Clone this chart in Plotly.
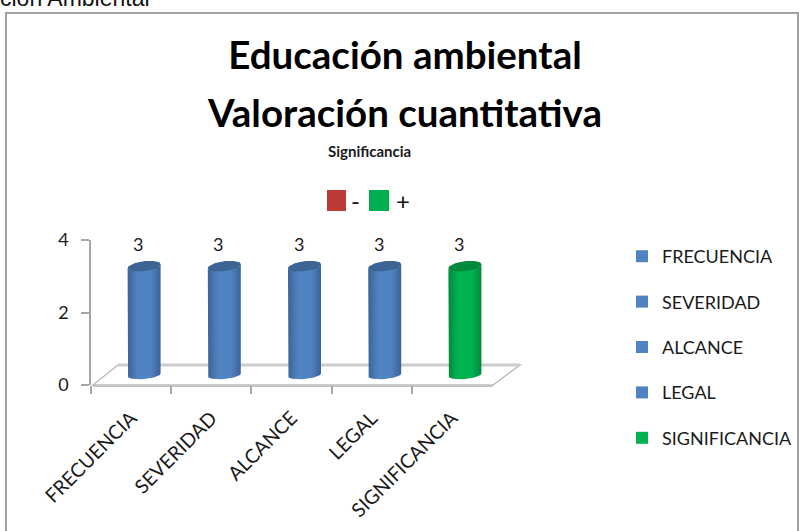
import numpy as np
import plotly.graph_objects as go

# ---- data ----
categories = ["FRECUENCIA", "SEVERIDAD", "ALCANCE", "LEGAL", "SIGNIFICANCIA"]
values = [3, 3, 3, 3, 3]
y_ticks = [0, 2, 4]
title_lines = ["Educación ambiental", "Valoración cuantitativa"]
subtitle = "Significancia"
clipped_heading = "ción Ambiental"
sign_labels = ["-", "+"]

# ---- styling ----
W, H = 799, 531
BLUE = dict(mid="#5183c2", edge="#396394", cap="#3b6595")
GREEN = dict(mid="#00b350", edge="#008a3e", cap="#008a3e")
styles = [BLUE, BLUE, BLUE, BLUE, GREEN]
GREY = "#a6a6a6"
FONT = "Lato"
px = lambda v: v / W
py = lambda v: 1 - v / H

AX_L, AX_R, AX_T, AX_B = 91, 492, 240, 385
DX, DY = 13, 10           # depth shift of the 3D columns
unit_x = (AX_R - AX_L) / 5
unit_y = (AX_B - AX_T) / 4
half_w = 16.5 / unit_x
cap_b = 5 / unit_y
cap_tilt = 2 / unit_y
Y2_FLOOR = -0.4           # room below zero for the rounded column base

fig = go.Figure()

# carrier of the category axis
fig.add_trace(go.Bar(x=categories, y=values, xaxis="x", yaxis="y",
                     marker=dict(color="rgba(0,0,0,0)"), showlegend=False, hoverinfo="skip"))

t = np.linspace(0, np.pi, 40)
tc = np.linspace(0, 2 * np.pi, 60)
for i, (name, v, st) in enumerate(zip(categories, values, styles)):
    fig.add_trace(go.Bar(x=[i], y=[v], width=[half_w * 1.7], name=name, xaxis="x2", yaxis="y2",
                         marker=dict(color=st["mid"], line=dict(width=0)),
                         legendgroup=name))
    # cylinder body with rounded front at the top and at the base
    cx_front = i + half_w * np.cos(t)
    top_front = v - cap_b * np.sin(t) + cap_tilt * np.cos(t)
    bot_front = -cap_b * np.sin(t) * 0.8 + cap_tilt * np.cos(t) * 0.7
    xs = np.concatenate([cx_front, cx_front[::-1], cx_front[:1]])
    ys = np.concatenate([top_front, bot_front[::-1], top_front[:1]])
    fig.add_trace(go.Scatter(x=xs, y=ys, mode="lines", line=dict(width=0), fill="toself",
                             fillgradient=dict(type="horizontal",
                                               colorscale=[[0, st["edge"]], [0.3, st["mid"]],
                                                           [0.7, st["mid"]], [1, st["edge"]]]),
                             xaxis="x2", yaxis="y2", showlegend=False, hoverinfo="skip"))
    # top cap
    fig.add_trace(go.Scatter(x=i + half_w * np.cos(tc),
                             y=v + cap_b * np.sin(tc) + cap_tilt * np.cos(tc),
                             mode="lines", line=dict(width=0), fill="toself", fillcolor=st["cap"],
                             xaxis="x2", yaxis="y2", showlegend=False, hoverinfo="skip"))

shapes = [
    # outer frame
    dict(type="path", xref="paper", yref="paper",
         path=f"M {px(6)} {py(H+5)} L {px(6)} {py(13)} L {px(W-1)} {py(13)} L {px(W-1)} {py(H+5)}",
         line=dict(color="#a3a3a3", width=2)),
    # floor
    dict(type="path", xref="paper", yref="paper", layer="below",
         path=f"M {px(93)} {py(385)} L {px(118)} {py(365)} L {px(520)} {py(365)} L {px(493)} {py(385)} Z",
         line=dict(color="#bdbdbd", width=1.5), fillcolor="#ffffff"),
    dict(type="line", xref="paper", yref="paper", layer="below",
         x0=px(118), x1=px(520), y0=py(365), y1=py(365), line=dict(color="#cccccc", width=3)),
    dict(type="line", xref="paper", yref="paper", layer="below",
         x0=px(93), x1=px(493), y0=py(386), y1=py(386), line=dict(color="#c4c4c4", width=2)),
    # sign swatches
    dict(type="rect", xref="paper", yref="paper", x0=px(327), x1=px(346), y0=py(190), y1=py(211),
         fillcolor="#bd3a36", line=dict(width=0)),
    dict(type="rect", xref="paper", yref="paper", x0=px(369), x1=px(389), y0=py(190), y1=py(211),
         fillcolor="#00b050", line=dict(width=0)),
]

annotations = [
    dict(text=clipped_heading, xref="paper", yref="paper", x=0, y=py(13), xanchor="left", xshift=-2,
         yanchor="bottom", showarrow=False, font=dict(family="Liberation Sans", size=23, color="#111111")),
    dict(text=f"<b>{title_lines[1]}</b>", xref="paper", yref="paper", x=px(404), y=py(112), yanchor="middle",
         showarrow=False, font=dict(family=FONT, size=38.5, color="#000000")),
    dict(text=f"<b>{subtitle}</b>", xref="paper", yref="paper", x=px(369), y=py(151), yanchor="middle",
         showarrow=False, font=dict(family=FONT, size=15, color="#1a1a1a")),
    dict(text=sign_labels[0], xref="paper", yref="paper", x=px(355), y=py(201), yanchor="middle",
         showarrow=False, font=dict(family=FONT, size=24, color="#111111")),
    dict(text=sign_labels[1], xref="paper", yref="paper", x=px(403), y=py(201), yanchor="middle",
         showarrow=False, font=dict(family=FONT, size=24, color="#111111")),
]
for i, v in enumerate(values):
    annotations.append(dict(text=str(v), xref="x2", yref="y2", x=i, y=v, xshift=-6, yshift=9,
                            yanchor="bottom", showarrow=False, font=dict(family=FONT, size=18, color="#1a1a1a")))

fig.update_layout(
    template="none",
    width=W, height=H, autosize=False,
    margin=dict(l=0, r=0, t=0, b=0, pad=0),
    paper_bgcolor="white", plot_bgcolor="rgba(0,0,0,0)",
    barmode="overlay", bargap=0,
    font=dict(family=FONT, color="#1a1a1a"),
    title=dict(text=f"<b>{title_lines[0]}</b>", x=px(405), xanchor="center",
               y=py(56), yanchor="middle", font=dict(family=FONT, size=38.5, color="#000000")),
    xaxis=dict(domain=[px(AX_L), px(AX_R)], type="category", categoryorder="array", categoryarray=categories,
               range=[-0.5, 4.5], tickson="boundaries", ticks="outside", ticklen=8, tickcolor=GREY, tickwidth=1.5,
               showline=False, showgrid=False, zeroline=False, tickangle=-45, automargin=False,
               ticklabelstandoff=17, tickfont=dict(family=FONT, size=19.5, color="#1a1a1a"), anchor="y"),
    yaxis=dict(domain=[py(AX_B), py(AX_T)], range=[0, 4], tickvals=y_ticks, ticks="outside", ticklen=8,
               tickcolor=GREY, tickwidth=1.5, showline=True, linecolor=GREY, linewidth=1.5, showgrid=False,
               zeroline=False, automargin=False, ticklabelstandoff=9,
               tickfont=dict(family=FONT, size=18, color="#1a1a1a"), anchor="x"),
    xaxis2=dict(domain=[px(AX_L + DX), px(AX_R + DX)], range=[-0.5, 4.5], visible=False, anchor="y2"),
    yaxis2=dict(domain=[py(AX_B - DY - Y2_FLOOR * unit_y), py(AX_T - DY)], range=[Y2_FLOOR, 4],
                visible=False, anchor="x2"),
    legend=dict(x=px(622), y=py(238), xanchor="left", yanchor="top", tracegroupgap=19,
                bgcolor="rgba(0,0,0,0)", font=dict(family=FONT, size=18, color="#1a1a1a"), itemclick=False),
    shapes=shapes, annotations=annotations,
)

fig.write_html("out.html", config={"displayModeBar": False},
               post_script="document.body.style.margin='0';document.body.style.overflow='hidden';")
